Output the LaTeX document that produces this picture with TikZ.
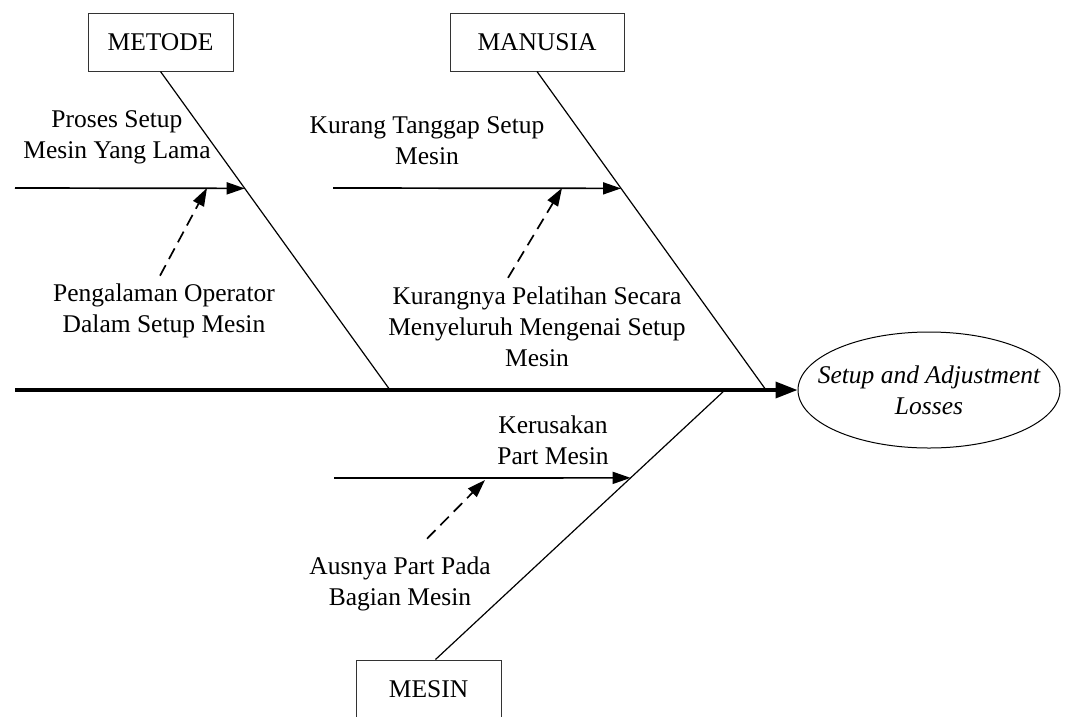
\documentclass[tikz,border=0pt]{standalone}
\usepackage{fontspec}
\setmainfont{Liberation Serif}
\usetikzlibrary{arrows.meta,calc,shapes.geometric}

\begin{document}
\begin{tikzpicture}[x=1pt,y=-1pt,
  every node/.style={font=\fontsize{25.5}{31}\selectfont},
  catbox/.style={draw=black!80,line width=1pt,minimum height=58pt,inner sep=0pt},
  effect/.style={ellipse,draw,line width=1pt,minimum width=262pt,minimum height=116pt,inner sep=0pt},
  note/.style={align=center,inner sep=0pt},
  bone/.style={line width=1.2pt},
  branch/.style={line width=1.7pt,-{Triangle[length=18pt,width=12pt]}},
  hint/.style={line width=1.7pt,dash pattern=on 12pt off 7pt,-{Triangle[length=18pt,width=12pt]}},
  spine/.style={line width=3.5pt,-{Triangle[length=22pt,width=16pt]}}]
\useasboundingbox (0,0) rectangle (1066,716);

% kategori
\node[catbox,minimum width=145pt] (metode) at (160.5,42) {METODE};
\node[catbox,minimum width=174pt] (manusia) at (537,42) {MANUSIA};
\node[catbox,minimum width=145pt] (mesin) at (428.5,689) {MESIN};

% akibat
\node[effect] (effect) at (929,390) {};
\node[note,font=\fontsize{25.5}{31}\selectfont\itshape] (effecttext) at (effect) {Setup and Adjustment\\Losses};

\coordinate (tail) at (15,390);
\coordinate (joint1) at (390,390);
\coordinate (joint2) at (766,390);
\coordinate (joint3) at (725,390);
\draw[spine] (tail) -- (effect.west);

% tulang
\draw[bone] (metode.south) -- (joint1);
\draw[bone] (manusia.south) -- (joint2);
\draw[bone] ([xshift=7pt]mesin.north) -- (joint3);

\coordinate (cause1) at ($(metode.south)!0.367!(joint1)$);
\coordinate (cause2) at ($(manusia.south)!0.367!(joint2)$);
\coordinate (cause3) at ($(joint3)!0.326!([xshift=7pt]mesin.north)$);
\coordinate (start1) at (15,188);
\coordinate (start2) at (333,188);
\coordinate (start3) at (334,478);
\draw[branch] (start1) -- (cause1);
\draw[branch] (start2) -- (cause2);
\draw[branch] (start3) -- (cause3);

% penyebab
\node[note] (proses) at (117,137) {Proses Setup\\Mesin Yang Lama};
\node[note] (kurang) at (427,141) {Kurang Tanggap Setup\\Mesin};
\node[note] (kerusakan) at (553,440) {Kerusakan\\Part Mesin};
\node[note] (pengalaman) at (164,311) {Pengalaman Operator\\Dalam Setup Mesin};
\node[note] (pelatihan) at (537,327) {Kurangnya Pelatihan Secara\\Menyeluruh Mengenai Setup\\Mesin};
\node[note] (ausnya) at (400,584) {Ausnya Part Pada\\Bagian Mesin};

\coordinate (hit1) at (207,188);
\coordinate (hit2) at (562,188);
\coordinate (hit3) at (485,480);
\draw[hint] ([xshift=-4pt,yshift=8pt]pengalaman.north) -- (hit1);
\draw[hint] ([xshift=-29pt,yshift=9pt]pelatihan.north) -- (hit2);
\draw[hint] ([xshift=27pt,yshift=18pt]ausnya.north) -- (hit3);
\end{tikzpicture}
\end{document}
